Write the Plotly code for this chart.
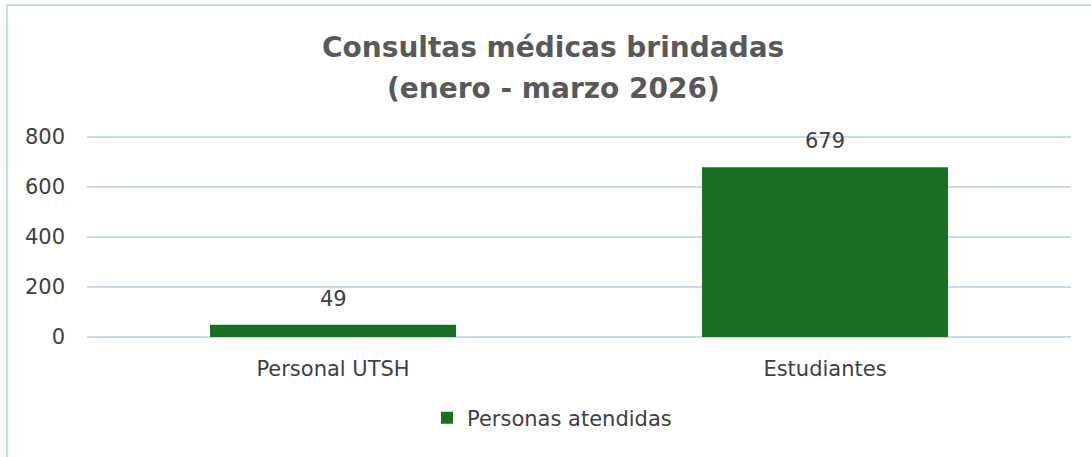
import plotly.graph_objects as go

categories = ["Personal UTSH", "Estudiantes"]
values = [49, 679]
series_name = "Personas atendidas"
title_lines = ["Consultas médicas brindadas", "(enero - marzo 2026)"]
y_ticks = [0, 200, 400, 600, 800]
y_max = 820

W, H = 1091, 457
L, R, T, B = 87, 20, 132, 120
PH = H - T - B  # plot height in px
PW = W - L - R
FONT = "DejaVu Sans"
GRID = "#C8DCF1"
TXT = "#404040"
FS = 21

fig = go.Figure()
fig.add_trace(go.Bar(
    x=categories, y=values, name=series_name,
    marker=dict(color="#1B6F24", line=dict(width=0)),
))

# data labels above bars
for c, v in zip(categories, values):
    fig.add_annotation(x=c, y=v, text=str(v), showarrow=False, yanchor="bottom", yshift=12,
                       font=dict(family=FONT, size=FS, color=TXT))

# title lines
title_y_px = [47, 88]
for line, ypx in zip(title_lines, title_y_px):
    fig.add_annotation(xref="paper", yref="paper", x=(553 - L) / PW, y=1 + (T - ypx) / PH,
                       text="<b>" + line + "</b>", showarrow=False,
                       xanchor="center", yanchor="middle",
                       font=dict(family=FONT, size=28, color="#595959"))

fig.update_layout(
    width=W, height=H,
    paper_bgcolor="white", plot_bgcolor="white",
    margin=dict(l=L, r=R, t=T, b=B),
    bargap=0.5,
    showlegend=True,
    legend=dict(orientation="h", x=(552 - L) / PW, xanchor="center", y=-(418 - (H - B)) / PH,
                yanchor="middle", font=dict(family=FONT, size=FS, color=TXT)),
    xaxis=dict(showgrid=False, showline=False, ticks="", ticklabelstandoff=17,
               tickfont=dict(family=FONT, size=FS, color=TXT)),
    yaxis=dict(range=[0, y_max], tickvals=y_ticks, showgrid=True, gridcolor=GRID, gridwidth=1.5,
               zeroline=True, zerolinecolor=GRID, zerolinewidth=1.5, showline=False,
               ticks="", ticklabelstandoff=21, tickfont=dict(family=FONT, size=FS, color=TXT)),
)
fig.add_shape(type="rect", xref="paper", yref="paper",
              x0=(7 - L) / PW, x1=1.1, y0=-1.0, y1=1 + (T - 5) / PH,
              line=dict(color=GRID, width=2), fillcolor="rgba(0,0,0,0)", layer="below")

fig.write_html("out.html", config={"displayModeBar": False},
               post_script="document.body.style.margin='0';document.body.style.overflow='hidden';")
